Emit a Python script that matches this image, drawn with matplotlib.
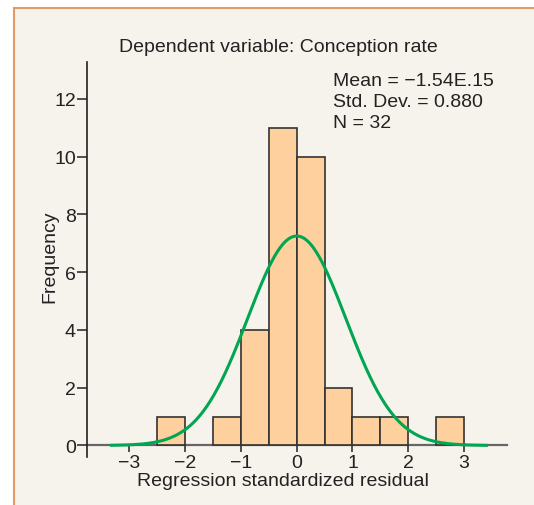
import numpy as np
import matplotlib
matplotlib.use("Agg")
import matplotlib.pyplot as plt
from matplotlib.patches import Rectangle

# Data
bin_edges = [-2.5, -2.0, -1.5, -1.0, -0.5, 0.0, 0.5, 1.0, 1.5, 2.0, 2.5, 3.0]
counts = [1, 0, 1, 4, 11, 10, 2, 1, 1, 0, 1]
mean_val = -1.54e-15
std_val = 0.880
n_val = 32
x_ticks = [-3, -2, -1, 0, 1, 2, 3]
y_ticks = [0, 2, 4, 6, 8, 10, 12]
title = "Dependent variable: Conception rate"
xlabel = "Regression standardized residual"
ylabel = "Frequency"

plt.rcParams['font.family'] = ['Liberation Sans', 'DejaVu Sans']
FS = 14

W, H = 534, 506
fig = plt.figure(figsize=(W / 100, H / 100), dpi=100, facecolor='white')

# Panel background with border
panel = Rectangle((14 / W, -0.01), 1.02 - 14 / W, 1 - 9 / H + 0.01, transform=fig.transFigure,
                  facecolor='#f6f2ec', edgecolor='#e39a66', linewidth=1.5, zorder=-10)
fig.patches.append(panel)

ax = fig.add_axes([87 / W, 48 / H, (507 - 87) / W, (458 - 63) / H])
ax.set_facecolor('none')
ax.set_zorder(5)

edges = np.array(bin_edges)
widths = np.diff(edges)
cnt = np.array(counts)
nz = cnt > 0
ax.bar(edges[:-1][nz], cnt[nz], width=widths[nz], align='edge', color='#fdd09d',
       edgecolor='#333333', linewidth=1.2, zorder=2)

# Fitted normal curve
bw = widths[0]
xs = np.linspace(-3.32, 3.40, 400)
ys = n_val * bw * np.exp(-0.5 * ((xs - mean_val) / std_val) ** 2) / (std_val * np.sqrt(2 * np.pi))
ax.plot(xs, ys, color='#00a651', linewidth=2.2, zorder=3)

ax.set_xlim(-3.76, 3.77)
ax.set_ylim(-0.4, 13.28)

for s in ['top', 'right']:
    ax.spines[s].set_visible(False)
ax.spines['bottom'].set_position(('data', 0))
ax.spines['bottom'].set_color('#666666')
ax.spines['bottom'].set_linewidth(1.6)
ax.spines['bottom'].set_zorder(1)
ax.spines['left'].set_color('#222222')
ax.spines['left'].set_linewidth(1.2)

ax.set_xticks(x_ticks)
ax.set_xticklabels([str(t).replace('-', '\u2212') for t in x_ticks])
ax.set_yticks(y_ticks)
ax.tick_params(axis='x', direction='out', length=5, width=1.2, color='#333333',
               labelsize=FS, pad=1, labelcolor='#222222')
ax.tick_params(axis='y', direction='out', length=7, width=1.2, color='#333333',
               labelsize=FS, pad=1, labelcolor='#222222')

fig.text(278 / W, 1 - 48 / H, title, ha='center', va='center', fontsize=FS, color='#222222')
fig.text(283 / W, 1 - 482 / H, xlabel, ha='center', va='center', fontsize=FS, color='#222222')
fig.text(50 / W, 1 - 257 / H, ylabel, ha='center', va='center', rotation=90,
         fontsize=FS, color='#222222')

stats = "Mean = \u22121.54E.15\nStd. Dev. = {:.3f}\nN = {}".format(std_val, n_val)
fig.text(333 / W, 1 - 73 / H, stats, ha='left', va='top', fontsize=FS,
         color='#222222', linespacing=1.3)

fig.savefig('out.png', dpi=100, facecolor='white')
